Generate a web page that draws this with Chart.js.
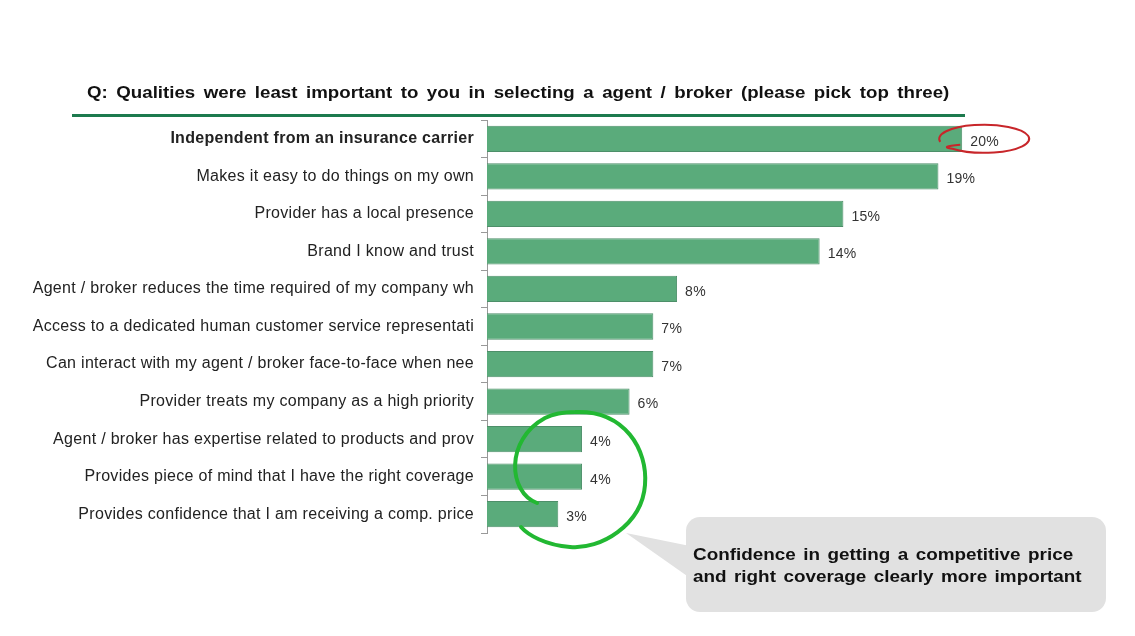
<!DOCTYPE html>
<html>
<head>
<meta charset="utf-8">
<script src="https://cdn.jsdelivr.net/npm/chart.js@4/dist/chart.umd.min.js"></script>
<style>
  html, body { margin: 0; padding: 0; background: #fff; }
  #wrap { position: relative; width: 1135px; height: 636px; overflow: hidden; }
  #chart { position: absolute; left: 0; top: 0; }
  #title {
    position: absolute; left: 87px; top: 83px;
    font: bold 17px "Liberation Sans", Arial, sans-serif;
    word-spacing: 3px; transform: scaleX(1.1); transform-origin: 0 0;
    color: #111; white-space: nowrap;
  }
  #rule { position: absolute; left: 72px; top: 114px; width: 893px; height: 3px; background: #1d7a4e; }
  #note {
    position: absolute; left: 693px; top: 544px;
    font: bold 17px "Liberation Sans", Arial, sans-serif;
    word-spacing: 2px; transform: scaleX(1.11); transform-origin: 0 0;
    line-height: 22px; color: #111; white-space: nowrap;
  }
</style>
</head>
<body>
<div id="wrap">
  <canvas id="chart" width="1135" height="636"></canvas>
  <div id="title">Q: Qualities were least important to you in selecting a agent / broker (please pick top three)</div>
  <div id="rule"></div>
  <div id="note">Confidence in getting a competitive price<br>and right coverage clearly more important</div>
</div>
<script>
// Survey answers, as shown on the chart
var categorias = [
  'Independent from an insurance carrier',
  'Makes it easy to do things on my own',
  'Provider has a local presence',
  'Brand I know and trust',
  'Agent / broker reduces the time required of my company wh',
  'Access to a dedicated human customer service representati',
  'Can interact with my agent / broker face-to-face when nee',
  'Provider treats my company as a high priority',
  'Agent / broker has expertise related to products and prov',
  'Provides piece of mind that I have the right coverage',
  'Provides confidence that I am receiving a comp. price'
];
var valores = [20, 19, 15, 14, 8, 7, 7, 6, 4, 4, 3];
var escalaMax = 25;

var fonte = '"Liberation Sans", Arial, sans-serif';

// slightly wider letters for the text drawn on the canvas
var espacamento = {
  id: 'espacamento',
  beforeDraw: function (chart) { chart.ctx.letterSpacing = '0.3px'; },
  afterDraw: function (chart) { chart.ctx.letterSpacing = '0px'; }
};

// value labels + the hand drawn marks and the callout bubble
var extras = {
  id: 'extras',
  afterDatasetsDraw: function (chart) {
    var ctx = chart.ctx;
    var meta = chart.getDatasetMeta(0);
    ctx.save();
    ctx.font = '14px ' + fonte;
    ctx.fillStyle = '#333';
    ctx.textBaseline = 'middle';
    meta.data.forEach(function (bar, i) {
      ctx.fillText(valores[i] + '%', bar.x + 8, bar.y + 3);
    });

    // callout bubble
    ctx.fillStyle = '#e1e1e1';
    ctx.beginPath();
    ctx.roundRect(686, 517, 420, 95, 14);
    ctx.fill();
    ctx.beginPath();
    ctx.moveTo(690, 546);
    ctx.lineTo(626, 533);
    ctx.lineTo(690, 578);
    ctx.closePath();
    ctx.fill();

    // red loop round the top value
    var b0 = meta.data[0];
    ctx.strokeStyle = '#c8262a';
    ctx.lineWidth = 2;
    ctx.beginPath();
    ctx.ellipse(b0.x + 22, b0.y, 45, 14, 0, Math.PI * 0.93, Math.PI * 2.75);
    ctx.quadraticCurveTo(b0.x - 24, b0.y + 8, b0.x - 2, b0.y + 6);
    ctx.stroke();

    // green loop round the three lowest bars
    ctx.strokeStyle = '#22b832';
    ctx.lineWidth = 4;
    ctx.lineCap = 'round';
    ctx.beginPath();
    ctx.moveTo(537, 503);
    ctx.bezierCurveTo(508, 492, 505, 440, 545, 418);
    ctx.bezierCurveTo(555, 413, 565, 412, 575, 412);
    ctx.bezierCurveTo(625, 410, 648, 450, 645, 485);
    ctx.bezierCurveTo(642, 525, 600, 550, 570, 547);
    ctx.bezierCurveTo(545, 545, 528, 535, 521, 527);
    ctx.stroke();
    ctx.restore();
  }
};

new Chart(document.getElementById('chart'), {
  type: 'bar',
  data: {
    labels: categorias,
    datasets: [{
      data: valores,
      backgroundColor: '#5aab7b',
      borderColor: '#4d8f69',
      borderWidth: 1,
      barPercentage: 0.7,
      categoryPercentage: 1
    }]
  },
  options: {
    indexAxis: 'y',
    responsive: false,
    animation: false,
    layout: { padding: { top: 120, bottom: 103, right: 54, left: 0 } },
    plugins: { legend: { display: false }, tooltip: { enabled: false } },
    scales: {
      x: { display: false, min: 0, max: escalaMax },
      y: {
        afterFit: function (scale) { scale.width = 487; },
        grid: { drawOnChartArea: false, tickLength: 6, color: '#999' },
        border: { display: true, color: '#999', width: 1 },
        ticks: {
          padding: 7,
          color: '#222',
          font: function (c) {
            return c.index === 0
              ? { family: fonte, size: 16, weight: 'bold' }
              : { family: fonte, size: 16 };
          }
        }
      }
    }
  },
  plugins: [espacamento, extras]
});
</script>
</body>
</html>
